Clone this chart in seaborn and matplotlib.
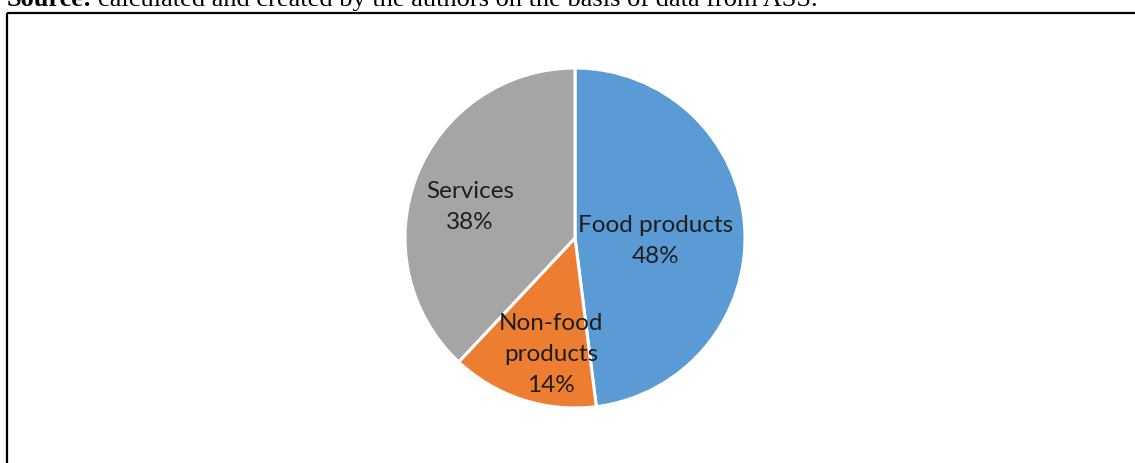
import matplotlib
matplotlib.use("Agg")
import matplotlib.pyplot as plt
import seaborn as sns
import numpy as np
from matplotlib.lines import Line2D

categories = ["Food products", "Non-food\nproducts", "Services"]
shares = [48, 14, 38]
pct_labels = ["48%", "14%", "38%"]
colors = ["#5B9BD5", "#ED7D31", "#A5A5A5"]
# label placement: radial fraction and angular nudge (deg) from the wedge middle
label_radius = [0.476, 0.70, 0.643]
label_nudge = [-5.5, 6.4, 5.2]

sns.set_theme(style="white")
plt.rcParams["font.family"] = ["Lato", "DejaVu Sans"]

W, H = 1135, 463
fig = plt.figure(figsize=(W / 100, H / 100), dpi=100)
fig.patch.set_facecolor("white")

# source line above the frame (serif, partly clipped by the top edge)
src_y = 1 - 6 / H
src_size = 19
t1 = fig.text(7 / W, src_y, "Source:", fontsize=src_size, fontweight="bold",
              family="Liberation Serif", va="baseline", ha="left", color="black")
fig.canvas.draw()
bb = t1.get_window_extent()
fig.text((bb.x1 + 5) / W, src_y,
         "calculated and created by the authors on the basis of data from ASS.",
         fontsize=src_size, family="Liberation Serif", va="baseline", ha="left",
         color="black")

# frame lines (left and top)
fig.add_artist(Line2D([7 / W, 7 / W], [0, 1 - 13 / H], transform=fig.transFigure,
                      color="black", lw=1.6, solid_capstyle="butt"))
fig.add_artist(Line2D([7 / W, 1], [1 - 13 / H, 1 - 13 / H], transform=fig.transFigure,
                      color="black", lw=1.6, solid_capstyle="butt"))

# pie axes: centre (575, 238) px, radius 170 px
cx, cy, r = 575, 238, 170
ax = fig.add_axes([(cx - r) / W, (H - cy - r) / H, 2 * r / W, 2 * r / H])
wedges, _ = ax.pie(shares, colors=colors, startangle=90, counterclock=False,
                   wedgeprops=dict(edgecolor="white", linewidth=2.2))
ax.set_xlim(-1, 1)
ax.set_ylim(-1, 1)
ax.set_aspect("equal")
ax.axis("off")

for w, cat, pct, lr, nd in zip(wedges, categories, pct_labels, label_radius, label_nudge):
    ang = np.deg2rad((w.theta1 + w.theta2) / 2 + nd)
    ax.text(lr * np.cos(ang), lr * np.sin(ang), f"{cat}\n{pct}",
            ha="center", va="center", fontsize=17.5, color="#1e1e1e",
            linespacing=1.6)

fig.savefig("out.png", dpi=100, facecolor="white")
